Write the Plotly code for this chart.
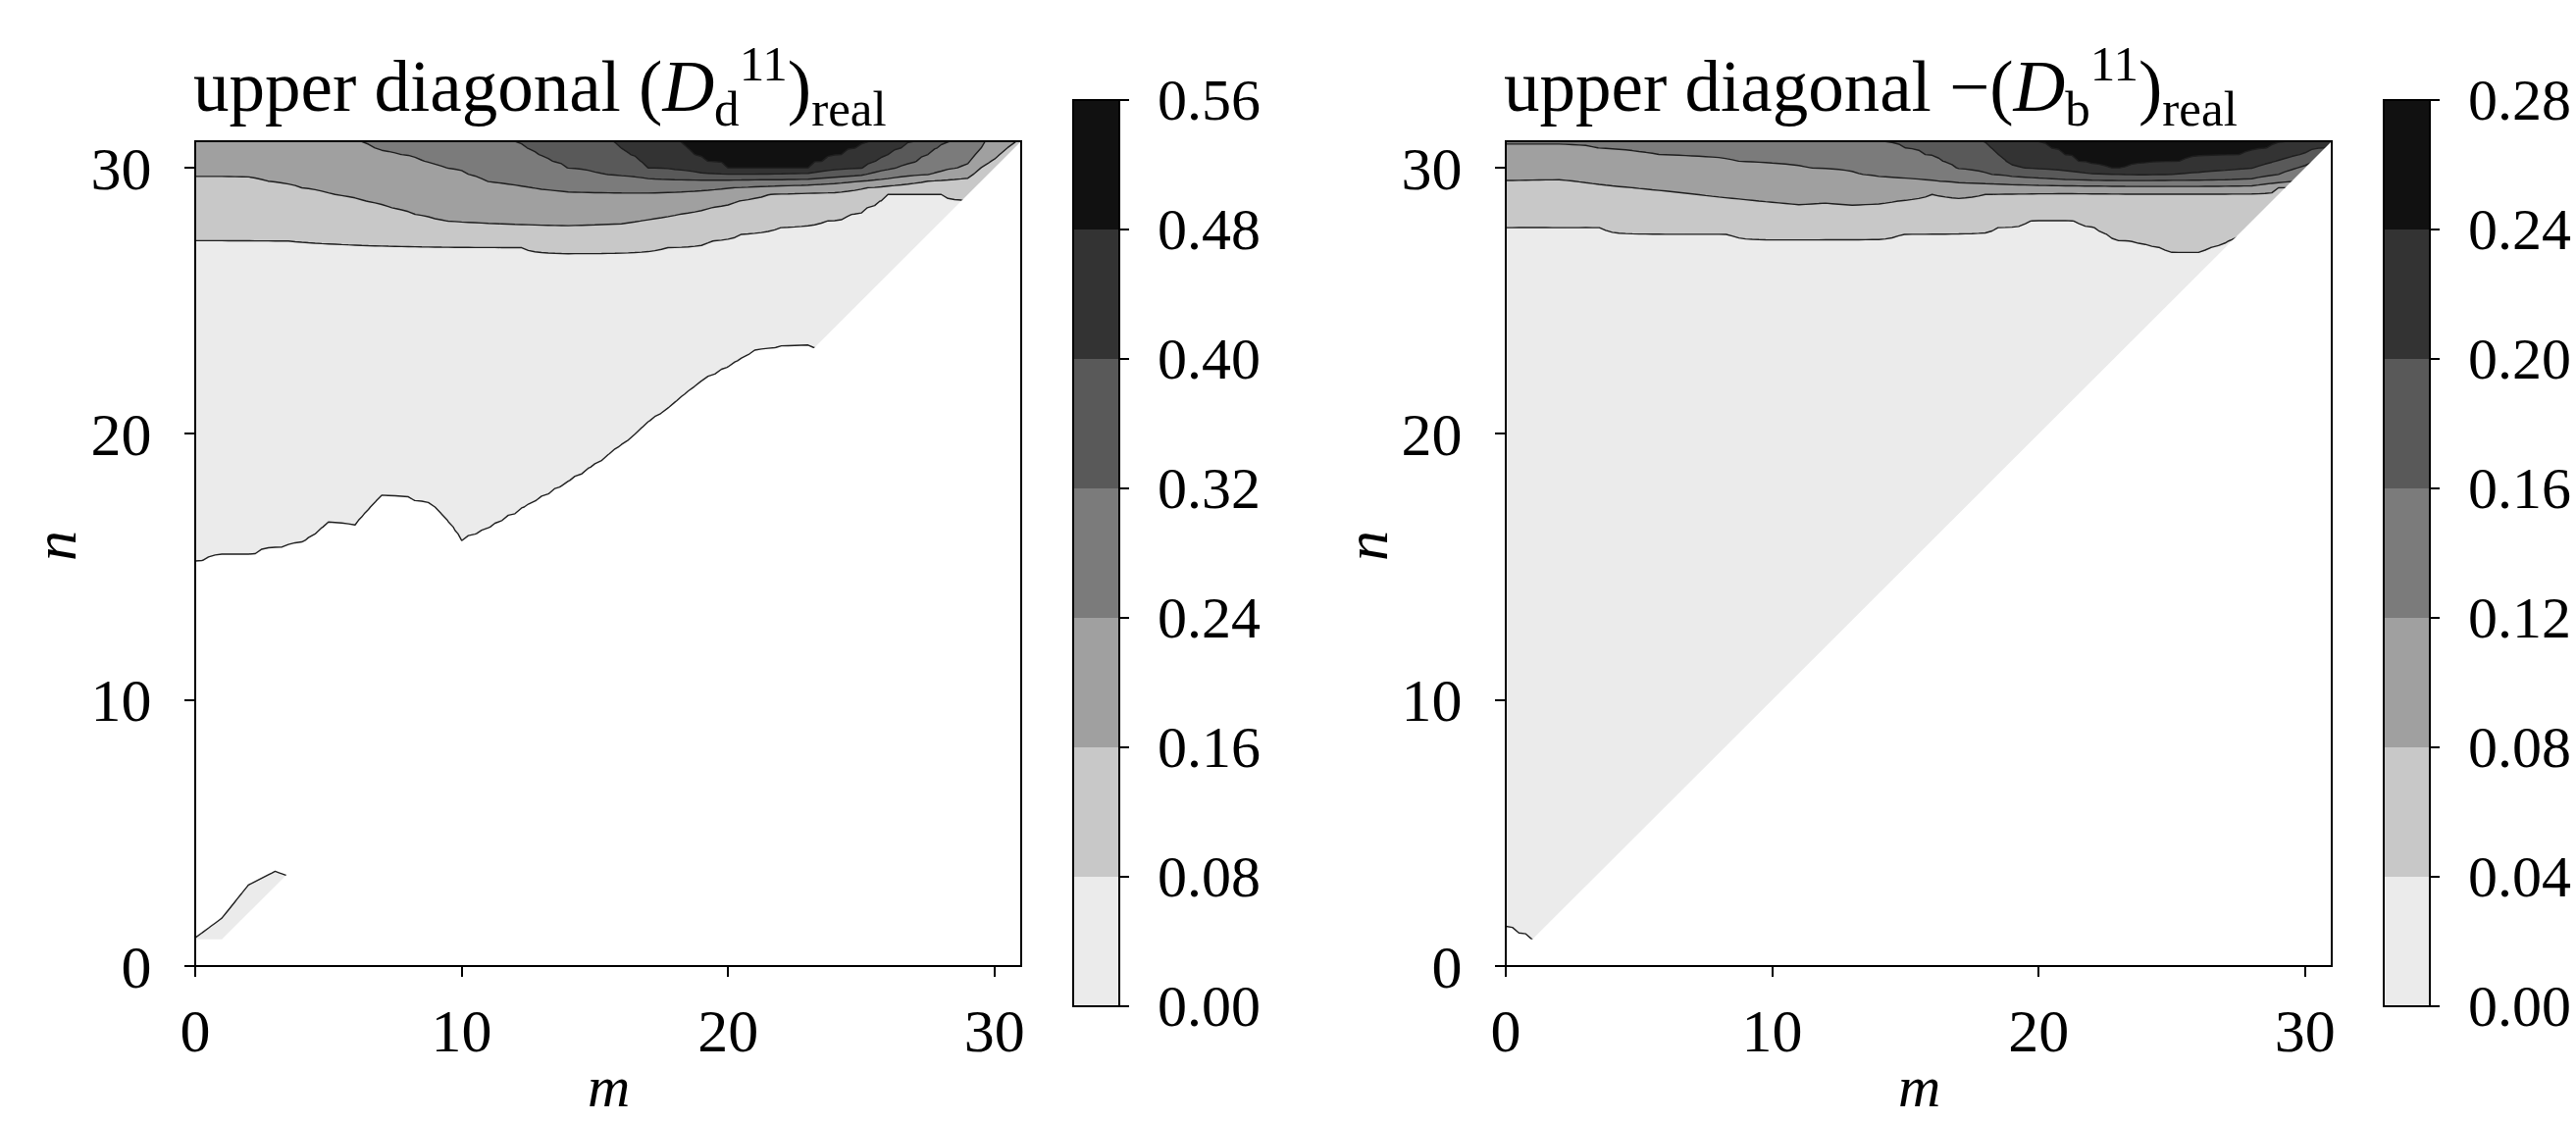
import numpy as np
import plotly.graph_objects as go

HI = 99.0   # level not reached inside that column (crossing lies above the top edge)
LO = -99.0  # level already exceeded at the diagonal (crossing lies below the triangle)

m_cols = list(range(32))
grays = ["#ebebeb", "#c8c8c8", "#a0a0a0", "#7b7b7b", "#595959", "#333333", "#111111"]

# ---------------- left panel ----------------
left_title = "upper diagonal (<i>D</i><sub>d</sub><sup>11</sup>)<sub>real</sub>"
left_levels = [0.00, 0.08, 0.16, 0.24, 0.32, 0.40, 0.48, 0.56]
left_ticktext = ["0.00", "0.08", "0.16", "0.24", "0.32", "0.40", "0.48", "0.56"]
# n position where each contour level is crossed, per column m = 0..31
left_n_000 = [15.15, 15.42, 15.42, 15.71, 15.84, 16.59, 16.52, 17.61, 17.55, 17.25, 15.97, 16.40,
              17.00, 17.57, 18.16, 18.80, 19.54, 20.40, 21.13, 21.98, 22.51, 23.10, 23.28, 23.30,
              23.00, LO, LO, LO, LO, LO, LO, LO]
left_n_008 = [27.31, 27.30, 27.28, 27.26, 27.24, 27.22, 27.20, 27.17, 27.15, 27.12, 27.08, 27.05,
              27.02, 26.95, 26.87, 26.87, 26.90, 26.95, 27.02, 27.17, 27.40, 27.60, 27.76, 27.90,
              28.05, 28.42, 29.00, 29.00, 29.00, 28.80, LO, LO]
left_n_016 = [29.65, 29.65, 29.63, 29.45, 29.25, 29.05, 28.85, 28.60, 28.32, 28.05, 27.93, 27.87,
              27.84, 27.82, 27.81, 27.84, 27.88, 28.05, 28.22, 28.42, 28.65, 28.93, 29.06, 29.13,
              29.15, 29.23, 29.33, 29.45, 29.55, 29.65, 30.40, 31.15]
left_n_024 = [HI, HI, HI, HI, HI, 31.30, 31.10, 30.63, 30.45, 30.10, 29.85, 29.48,
              29.35, 29.20, 29.12, 29.10, 29.09, 29.08, 29.12, 29.18, 29.24, 29.30, 29.33, 29.35,
              29.42, 29.50, 29.58, 29.68, 29.80, 30.10, 31.40, HI]
left_n_032 = [HI] * 11 + [31.40, 31.00, 30.40, 29.95, 29.80, 29.68, 29.62, 29.58, 29.55, 29.55,
                          29.56, 29.56, 29.57, 29.64, 29.72, 29.90, 30.20, 30.80, 31.30, HI, HI]
left_n_040 = [HI] * 15 + [31.50, 30.70, 29.97, 29.85, 29.78, 29.76, 29.76, 29.77, 29.80, 29.88,
                          29.95, 30.50, 31.00] + [HI] * 4
left_n_048 = [HI] * 18 + [31.10, 30.30, 29.98, 29.97, 29.97, 29.99, 30.40, 30.80, 31.30] + [HI] * 5
left_n_056 = [HI] * 32
# small positive patch along the diagonal near the origin: n where it drops below 0 (m = 0..4)
left_sliver = [1.06, 1.80, 3.05, 3.56, 3.20]

# ---------------- right panel ----------------
right_title = "upper diagonal \u2212(<i>D</i><sub>b</sub><sup>11</sup>)<sub>real</sub>"
right_levels = [0.00, 0.04, 0.08, 0.12, 0.16, 0.20, 0.24, 0.28]
right_ticktext = ["0.00", "0.04", "0.08", "0.12", "0.16", "0.20", "0.24", "0.28"]
right_n_000 = [1.43, 0.95] + [LO] * 30
right_n_004 = [27.77, 27.86, 27.76, 27.80, 27.72, 27.62, 27.55, 27.53, 27.52, 27.47, 27.44, 27.44,
               27.44, 27.44, 27.45, 27.51, 27.55, 27.60, 27.68, 27.87, 28.10, 28.11, 27.86, 27.30,
               27.19, 26.87, 26.85, 27.20, 27.70, LO, LO, LO]
right_n_008 = [29.53, 29.55, 29.57, 29.45, 29.33, 29.23, 29.14, 29.02, 28.90, 28.80, 28.70, 28.60,
               28.67, 28.59, 28.65, 28.79, 29.00, 28.90, 29.00, 29.03, 29.06, 29.08, 29.08, 29.07,
               29.07, 29.07, 29.07, 29.07, 29.07, 29.25, 29.45, LO]
right_n_012 = [30.84, 30.84, 30.84, 30.80, 30.68, 30.56, 30.48, 30.40, 30.33, 30.22, 30.12, 30.04,
               29.94, 29.80, 29.66, 29.59, 29.52, 29.45, 29.41, 29.38, 29.35, 29.33, 29.32, 29.31,
               29.30, 29.30, 29.30, 29.31, 29.33, 29.40, 29.55, LO]
right_n_016 = [HI] * 14 + [31.05, 30.75, 30.41, 29.93, 29.78, 29.66, 29.60, 29.55, 29.53, 29.52,
                           29.52, 29.53, 29.53, 29.54, 29.56, 29.75, 30.10, 30.60]
right_n_020 = [HI] * 17 + [31.50, 30.90, 30.05, 29.92, 29.85, 29.78, 29.75, 29.73, 29.75, 29.80,
                           29.88, 29.98, 30.28, 30.55, 30.80]
right_n_024 = [HI] * 19 + [31.40, 30.95, 30.47, 30.02, 29.99, 30.04, 30.20, 30.33, 30.42, 30.55,
                           30.85, 31.20, HI]
right_n_028 = [HI] * 32
right_sliver = []

axis_ticks = [0, 10, 20, 30]
grid = np.linspace(0, 31, 125)


def build_z(crossings, levels, sliver):
    K = len(levels)
    mi = np.array(m_cols, dtype=float)
    C = np.zeros((K, len(mi)))
    for k, arr in enumerate(crossings):
        for j, v in enumerate(arr):
            if v == HI:
                C[k, j] = 32.0 + 0.5 * k
            elif v == LO:
                C[k, j] = j - 3.0 + 0.2 * k
            else:
                C[k, j] = v
    S = np.full(len(mi), -5.0)
    S[:len(sliver)] = sliver
    step = levels[1] - levels[0]
    pos, neg = 0.25 * step, -0.25 * step
    Z = np.zeros((len(grid), len(grid)))
    for i, xv in enumerate(grid):
        c = [float(np.interp(xv, mi, C[k])) for k in range(K)]
        s = float(np.interp(xv, mi, S))
        xp = [s - 1, s, s + 1, c[0] - 0.5] + c
        fp = [pos, 0.0, neg, neg] + list(levels)
        assert np.all(np.diff(xp) > 0), (xv, xp)
        Z[:, i] = np.interp(grid, xp, fp)
    return Z


z_left = build_z([left_n_000, left_n_008, left_n_016, left_n_024, left_n_032,
                  left_n_040, left_n_048, left_n_056], left_levels, left_sliver)
z_right = build_z([right_n_000, right_n_004, right_n_008, right_n_012, right_n_016,
                   right_n_020, right_n_024, right_n_028], right_levels, right_sliver)

# contour fill scale: below first level -> white, each band -> its gray
fill_scale = [[0.0, "white"], [1 / 16, "white"]]
for k, g in enumerate(grays):
    lo_s = (2 * k + 1) / 16
    hi_s = (2 * k + 3) / 16 if k < len(grays) - 1 else 1.0
    fill_scale += [[lo_s, g], [hi_s, g]]

# colorbar scale: 7 equal bands
cb_scale = []
for k, g in enumerate(grays):
    cb_scale += [[k / 7, g], [(k + 1) / 7, g]]

W, H = 2626, 1143
FONT = "Liberation Serif"
TICK_SIZE = 62
CB_SIZE = 60
CB_TOP, CB_LEN = 101.7, 924.0

panels = [
    dict(z=z_left, levels=left_levels, ticktext=left_ticktext, title=left_title,
         x0=199, x1=1041, cbx=1094, xa="x", ya="y", nlab=56),
    dict(z=z_right, levels=right_levels, ticktext=right_ticktext, title=right_title,
         x0=1535, x1=2377, cbx=2430, xa="x2", ya="y2", nlab=1393),
]
ytop, ybot = 144, 985

fig = go.Figure()
shapes, annotations = [], []
for p in panels:
    lv = p["levels"]
    fig.add_trace(go.Contour(
        x=grid, y=grid, z=p["z"], xaxis=p["xa"], yaxis=p["ya"],
        contours=dict(start=lv[0], end=lv[-1], size=lv[1] - lv[0], coloring="fill", showlines=True),
        line=dict(color="#1e1e1e", width=1.4, smoothing=0),
        colorscale=fill_scale, showscale=False, hoverinfo="skip",
    ))
    fig.add_trace(go.Scatter(
        x=[None], y=[None], xaxis=p["xa"], yaxis=p["ya"], mode="markers", showlegend=False,
        hoverinfo="skip",
        marker=dict(color=[lv[0]], cmin=lv[0], cmax=lv[-1], colorscale=cb_scale, showscale=True,
                    colorbar=dict(
                        thickness=47, thicknessmode="pixels", len=CB_LEN, lenmode="pixels",
                        x=p["cbx"] / W, xref="paper", xanchor="left", xpad=0,
                        y=1 - CB_TOP / H, yref="paper", yanchor="top", ypad=0,
                        outlinewidth=2, outlinecolor="black", borderwidth=0,
                        tickvals=lv, showticklabels=False,
                        ticks="outside", ticklen=9, tickwidth=2, tickcolor="black",
                    )),
    ))
    # colorbar tick labels
    for v, t in zip(lv, p["ticktext"]):
        ypix = CB_TOP + (lv[-1] - v) / (lv[-1] - lv[0]) * CB_LEN
        annotations.append(dict(text=t, xref="paper", yref="paper", x=(p["cbx"] + 84) / W,
                                y=1 - ypix / H, xanchor="left", yanchor="middle", showarrow=False,
                                font=dict(family=FONT, size=CB_SIZE, color="black")))
    xref_d = p["xa"] + " domain"
    yref_d = p["ya"] + " domain"
    # white mask for the part below the diagonal (outside the upper triangle)
    shapes.append(dict(type="path", xref=p["xa"], yref=p["ya"],
                       path="M 0,0 L 0,1 L 1,1 L 31,31 L 31,0 Z",
                       fillcolor="white", line=dict(width=0), layer="above"))
    shapes.append(dict(type="rect", xref=xref_d, yref=yref_d, x0=0, x1=1, y0=0, y1=1,
                       line=dict(color="black", width=2), fillcolor="rgba(0,0,0,0)", layer="above"))
    annotations.append(dict(text=p["title"], xref="paper", yref="paper", x=(p["x0"] - 4) / W,
                            y=1 - 87 / H, xanchor="left", yanchor="middle", showarrow=False,
                            font=dict(family=FONT, size=73, color="black")))
    annotations.append(dict(text="<i>m</i>", xref="paper", yref="paper",
                            x=(p["x0"] + p["x1"]) / 2 / W, y=0,
                            xanchor="center", yanchor="bottom", showarrow=False,
                            font=dict(family=FONT, size=60, color="black")))
    annotations.append(dict(text="<i>n</i>", xref="paper", yref="paper",
                            x=p["nlab"] / W, y=1 - 557 / H, textangle=-90,
                            xanchor="center", yanchor="middle", showarrow=False,
                            font=dict(family=FONT, size=62, color="black")))

axis_common = dict(range=[0, 31], tickvals=axis_ticks, ticks="outside", ticklen=10, tickwidth=2,
                   tickcolor="black", showgrid=False, zeroline=False, showline=False,
                   automargin=False,
                   tickfont=dict(family=FONT, size=TICK_SIZE, color="black"))

fig.update_layout(
    width=W, height=H, autosize=False,
    margin=dict(l=0, r=0, t=0, b=0, pad=0, autoexpand=False),
    paper_bgcolor="white", plot_bgcolor="white",
    font=dict(family=FONT, color="black"),
    showlegend=False,
    xaxis=dict(domain=[199 / W, 1041 / W], anchor="y", ticklabelstandoff=2, **axis_common),
    yaxis=dict(domain=[1 - ybot / H, 1 - ytop / H], anchor="x", ticklabelstandoff=21, **axis_common),
    xaxis2=dict(domain=[1535 / W, 2377 / W], anchor="y2", ticklabelstandoff=2, **axis_common),
    yaxis2=dict(domain=[1 - ybot / H, 1 - ytop / H], anchor="x2", ticklabelstandoff=21, **axis_common),
    shapes=shapes,
    annotations=annotations,
)

fig.write_html("out.html", config={"displayModeBar": False},
               post_script="document.body.style.margin='0px';document.body.style.overflow='hidden';")
